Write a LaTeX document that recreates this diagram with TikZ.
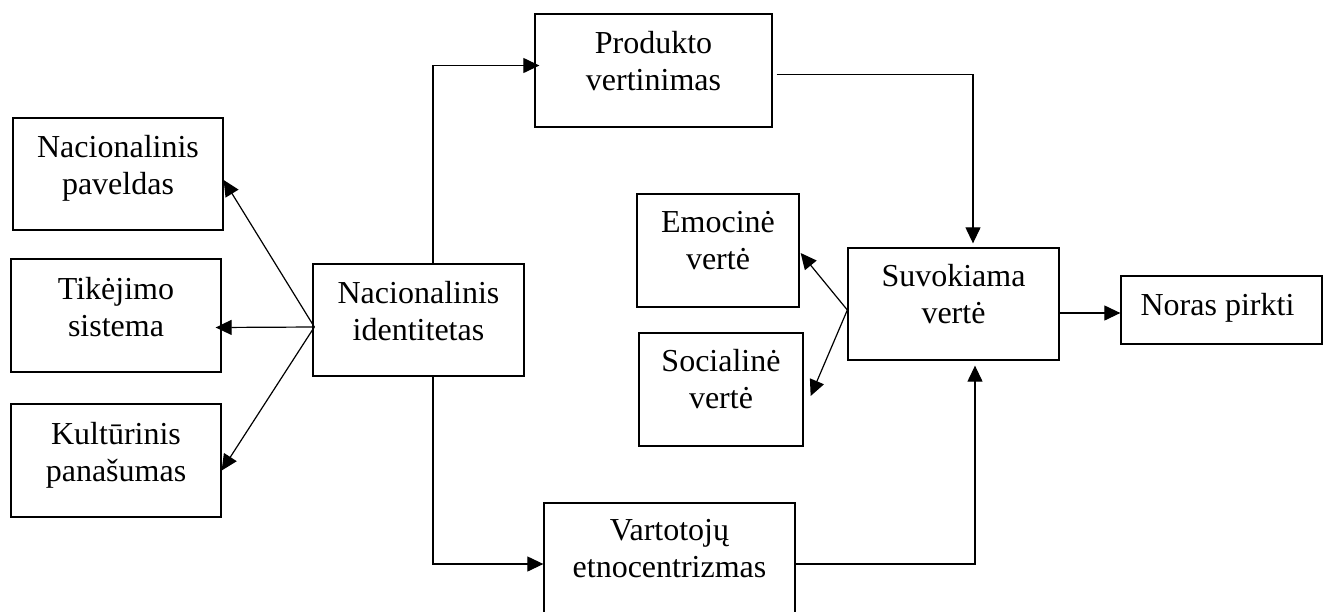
\documentclass[tikz,border=0pt]{standalone}
\usepackage{fontspec}
\setmainfont{Liberation Serif}
\usetikzlibrary{arrows.meta}
\begin{document}
\begin{tikzpicture}[x=1pt,y=-1pt,
  box/.style={draw, line width=1.3pt, inner sep=0pt},
  txt/.style={anchor=base, align=center, inner sep=0pt, font=\fontsize{32}{37}\selectfont},
  arr/.style={line width=1.2pt, -{Triangle[length=16pt,width=15pt]}}]
\useasboundingbox (0,0) rectangle (1323,611);
% boxes
\node[box, minimum width=210pt, minimum height=112pt] (pav) at (118,174) {};
\node[box, minimum width=210pt, minimum height=113pt] (tik) at (116,315.5) {};
\node[box, minimum width=210pt, minimum height=113pt] (kul) at (116,460.5) {};
\node[box, minimum width=211pt, minimum height=112pt] (nid) at (418.5,320) {};
\node[box, minimum width=237pt, minimum height=113pt] (pro) at (653.5,70.5) {};
\node[box, minimum width=251pt, minimum height=130pt] (var) at (669.5,568) {};
\node[box, minimum width=162pt, minimum height=113pt] (emo) at (718,250.5) {};
\node[box, minimum width=164pt, minimum height=113pt] (soc) at (721,389.5) {};
\node[box, minimum width=211pt, minimum height=112pt] (suv) at (953.5,304) {};
\node[box, minimum width=201pt, minimum height=68pt] (nor) at (1221.5,310) {};
% texts (base = last line baseline)
\node[txt] (pav-t) at ([shift={(0,77)}]pav.north) {Nacionalinis\\paveldas};
\node[txt] (tik-t) at ([shift={(0,78)}]tik.north) {Tikėjimo\\sistema};
\node[txt] (kul-t) at ([shift={(0,78)}]kul.north) {Kultūrinis\\panašumas};
\node[txt] (nid-t) at ([shift={(0,77)}]nid.north) {Nacionalinis\\identitetas};
\node[txt] (pro-t) at ([shift={(0,77)}]pro.north) {Produkto\\vertinimas};
\node[txt] (var-t) at ([shift={(0,75)}]var.north) {Vartotojų\\etnocentrizmas};
\node[txt] (emo-t) at ([shift={(0,76)}]emo.north) {Emocinė\\vertė};
\node[txt] (soc-t) at ([shift={(0,76)}]soc.north) {Socialinė\\vertė};
\node[txt] (suv-t) at ([shift={(0,76)}]suv.north) {Suvokiama\\vertė};
\node[txt] (nor-t) at ([shift={(-4,5)}]nor.center) {Noras pirkti};
% connectors
\coordinate (src) at ([shift={(2,7)}]nid.west);
\draw[arr] (src) -- ([shift={(0,6)}]pav.east);
\draw[arr] (src) -- ([shift={(-6,12)}]tik.east);
\draw[arr] (src) -- ([shift={(0,10)}]kul.east);
\draw[arr] ([xshift=14.5pt]nid.north) |- ([shift={(5,-5)}]pro.west);
\draw[arr] ([xshift=14.5pt]nid.south) |- ([shift={(0,-4)}]var.west);
\draw[arr] ([shift={(4,4)}]pro.east) -| ([shift={(19.5,-4)}]suv.north);
\draw[arr] (var.east |- 0,564) -| ([shift={(21.5,5)}]suv.south);
\draw[arr] ([shift={(0,6)}]suv.west) -- ([shift={(1,2.5)}]emo.east);
\draw[arr] ([shift={(0,6)}]suv.west) -- ([shift={(7,6.5)}]soc.east);
\draw[arr] ([shift={(0,9)}]suv.east) -- ([shift={(0,3)}]nor.west);
\end{tikzpicture}
\end{document}
